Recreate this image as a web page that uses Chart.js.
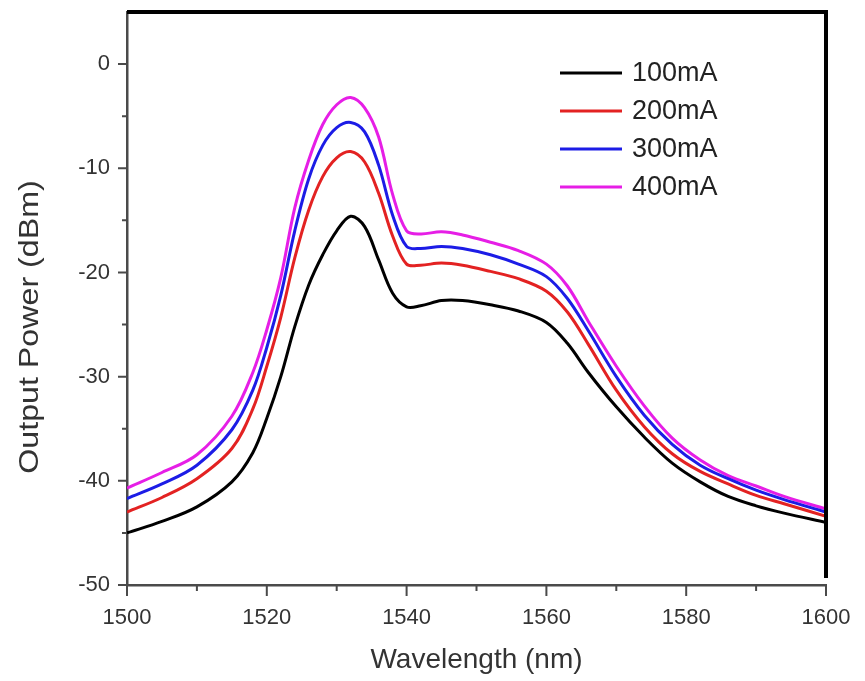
<!DOCTYPE html>
<html>
<head>
<meta charset="utf-8">
<script src="https://cdn.jsdelivr.net/npm/chart.js@4.4.1/dist/chart.umd.min.js"></script>
<style>
  html, body { margin: 0; padding: 0; background: #fff; }
  #wrap { width: 865px; height: 681px; }
</style>
</head>
<body>
<div id="wrap"><canvas id="chart" width="865" height="681"></canvas></div>
<script>
// wavelength grid (nm) shared by all series
const wavelengths = [1500, 1505, 1510, 1515, 1518, 1520, 1522, 1524, 1526, 1528, 1530, 1532, 1534, 1536, 1538, 1540, 1542, 1545, 1548, 1552, 1556, 1560, 1563, 1566, 1570, 1574, 1578, 1582, 1586, 1590, 1594, 1600]

// output power (dBm) per drive current
const power100 = [-45.0, -43.9, -42.5, -40.1, -37.3, -34.0, -30.0, -25.2, -21.2, -18.3, -16.0, -14.6, -15.6, -18.8, -22.0, -23.3, -23.2, -22.7, -22.7, -23.1, -23.7, -24.8, -26.8, -29.6, -32.9, -35.8, -38.3, -40.1, -41.5, -42.4, -43.1, -44.0]
const power200 = [-43.0, -41.6, -39.8, -36.9, -33.1, -29.0, -24.3, -18.6, -14.0, -10.8, -9.0, -8.4, -9.4, -12.4, -16.5, -19.2, -19.3, -19.1, -19.3, -19.9, -20.6, -21.8, -23.8, -26.9, -31.3, -34.8, -37.4, -39.1, -40.3, -41.4, -42.2, -43.4]
const power300 = [-41.7, -40.3, -38.5, -35.1, -31.3, -27.2, -22.2, -16.0, -11.0, -7.8, -6.1, -5.6, -6.5, -9.7, -14.5, -17.5, -17.7, -17.5, -17.7, -18.3, -19.2, -20.4, -22.5, -25.6, -30.0, -33.7, -36.5, -38.5, -39.8, -40.9, -41.8, -43.0]
const power400 = [-40.7, -39.2, -37.5, -33.8, -29.6, -25.5, -20.5, -13.8, -9.2, -5.8, -3.9, -3.2, -4.2, -7.0, -12.5, -16.0, -16.3, -16.1, -16.4, -17.1, -17.9, -19.2, -21.3, -24.7, -29.0, -32.8, -35.9, -38.0, -39.5, -40.5, -41.5, -42.7]

const seriesLabels = ["100mA", "200mA", "300mA", "400mA"]
const seriesColors = ["#000000", "#e32222", "#1c1ce6", "#e61ee6"]

const xMajor = [1500, 1520, 1540, 1560, 1580, 1600]
const xMinor = [1510, 1530, 1550, 1570, 1590]
const yMajor = [-50, -40, -30, -20, -10, 0]
const yMinor = [-45, -35, -25, -15, -5]

const toPoints = (ys) => wavelengths.map((x, i) => ({ x: x, y: ys[i] }))

const axisColor = "#4a4a4a"
const textColor = "#333333"
const fontFamily = "'Liberation Sans', Arial, sans-serif"

// ticks, frame, y title and legend drawn by hand
const decorations = {
  id: "decorations",
  afterDraw(chart) {
    const ctx = chart.ctx
    const xs = chart.scales.x
    const ys = chart.scales.y
    const area = chart.chartArea
    ctx.save()
    ctx.strokeStyle = axisColor
    ctx.lineWidth = 2
    ctx.beginPath()
    xMajor.forEach(v => {
      const px = xs.getPixelForValue(v)
      ctx.moveTo(px, area.bottom); ctx.lineTo(px, area.bottom + 11)
    })
    xMinor.forEach(v => {
      const px = xs.getPixelForValue(v)
      ctx.moveTo(px, area.bottom); ctx.lineTo(px, area.bottom + 6)
    })
    yMajor.forEach(v => {
      const py = ys.getPixelForValue(v)
      ctx.moveTo(area.left, py); ctx.lineTo(area.left - 9, py)
    })
    yMinor.forEach(v => {
      const py = ys.getPixelForValue(v)
      ctx.moveTo(area.left, py); ctx.lineTo(area.left - 5, py)
    })
    ctx.stroke()

    // black frame at top and right
    ctx.strokeStyle = "#000"
    ctx.lineWidth = 4
    ctx.beginPath()
    ctx.moveTo(area.left, area.top)
    ctx.lineTo(area.right, area.top)
    ctx.lineTo(area.right, area.bottom - 7)
    ctx.stroke()

    // y title (a bit stretched along its length, like the original)
    ctx.save()
    ctx.translate(30, 327)
    ctx.rotate(-Math.PI / 2)
    ctx.scale(1.15, 1)
    ctx.font = "28px " + fontFamily
    ctx.fillStyle = textColor
    ctx.textAlign = "center"
    ctx.textBaseline = "middle"
    ctx.fillText("Output Power (dBm)", 0, 0)
    ctx.restore()

    // legend
    ctx.font = "27px " + fontFamily
    ctx.textBaseline = "middle"
    ctx.fillStyle = "#222"
    seriesLabels.forEach((lab, i) => {
      const y = 73 + i * 38
      ctx.strokeStyle = seriesColors[i]
      ctx.lineWidth = 3
      ctx.beginPath()
      ctx.moveTo(560, y); ctx.lineTo(622, y)
      ctx.stroke()
      ctx.fillText(lab, 632, y + 1)
    })
    ctx.restore()
  }
}

new Chart(document.getElementById("chart"), {
  type: "line",
  data: {
    datasets: [power100, power200, power300, power400].map((ys, i) => ({
      label: seriesLabels[i],
      data: toPoints(ys),
      borderColor: seriesColors[i],
      borderWidth: 3,
      pointRadius: 0,
      tension: 0.35,
      fill: false
    }))
  },
  options: {
    responsive: false,
    animation: false,
    layout: { padding: { top: 12, right: 39, left: 0, bottom: 0 } },
    plugins: {
      legend: { display: false },
      tooltip: { enabled: false }
    },
    scales: {
      x: {
        type: "linear",
        min: 1500,
        max: 1600,
        afterBuildTicks: (s) => { s.ticks = xMajor.map(v => ({ value: v })) },
        afterFit: (s) => { s.height = 96; s.paddingLeft = 0; s.paddingRight = 0 },
        grid: { display: false },
        border: { display: true, color: axisColor, width: 2.5 },
        ticks: {
          color: textColor,
          padding: 12,
          maxRotation: 0,
          callback: (v) => String(v),
          font: { family: fontFamily, size: 22 }
        },
        title: {
          display: true,
          text: "Wavelength (nm)",
          color: textColor,
          padding: { top: 0, bottom: 4 },
          font: { family: fontFamily, size: 28 }
        }
      },
      y: {
        type: "linear",
        min: -50,
        max: 5,
        afterBuildTicks: (s) => { s.ticks = yMajor.map(v => ({ value: v })) },
        afterFit: (s) => { s.width = 127; s.paddingTop = 0; s.paddingBottom = 0 },
        grid: { display: false },
        border: { display: true, color: axisColor, width: 2.5 },
        ticks: {
          color: textColor,
          padding: 9,
          font: { family: fontFamily, size: 22 }
        }
      }
    }
  },
  plugins: [decorations]
})
</script>
</body>
</html>
